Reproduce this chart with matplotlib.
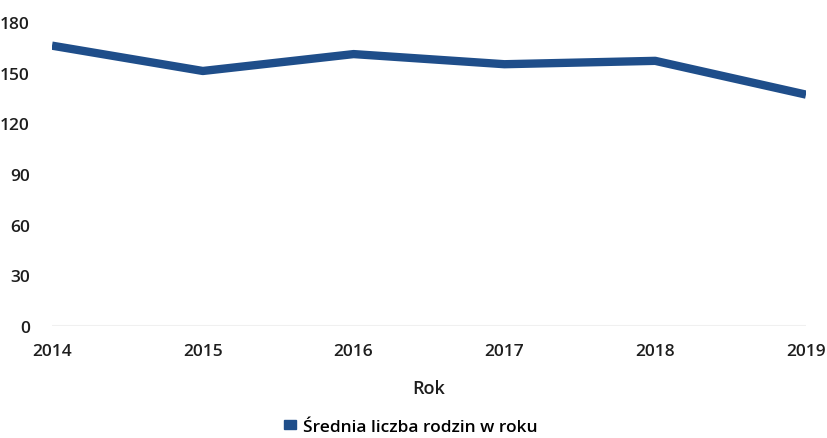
import matplotlib.pyplot as plt
from matplotlib.patches import Patch

plt.rcParams['font.family'] = ['Open Sans', 'DejaVu Sans']
plt.rcParams['font.weight'] = 'semibold'

# Data
years = [2014, 2015, 2016, 2017, 2018, 2019]
families = [166, 151, 161, 155, 157, 137]
y_ticks = [0, 30, 60, 90, 120, 150, 180]
series_name = "Średnia liczba rodzin w roku"
line_color = "#1f4e8a"

fig = plt.figure(figsize=(8.27, 4.39), dpi=100)
ax = fig.add_axes([52 / 827, 1 - 327 / 439, (806 - 52) / 827, (327 - 23) / 439])

ax.plot(years, families, color=line_color, linewidth=6, solid_capstyle='butt',
        solid_joinstyle='round')

ax.set_xlim(years[0], years[-1])
ax.set_ylim(0, 180)
ax.set_yticks(y_ticks)
ax.set_xticks(years)
ax.axhline(0, color="#f0f0f0", linewidth=1.5, zorder=0)

for s in ax.spines.values():
    s.set_visible(False)
ax.tick_params(length=0, labelsize=12.5, colors="#1e1e1e")
ax.tick_params(axis='y', pad=16)
ax.tick_params(axis='x', pad=12)

ax.set_xlabel("Rok", fontsize=13, color="#1e1e1e", labelpad=15, fontweight='semibold')

handle = Patch(facecolor=line_color, edgecolor=line_color)
fig.legend([handle], [series_name], loc='center', bbox_to_anchor=(0.497, 1 - 428 / 439),
           frameon=False, fontsize=12.5, handlelength=0.7, handleheight=0.4,
           handletextpad=0.4)

fig.savefig("out.png", dpi=100)
